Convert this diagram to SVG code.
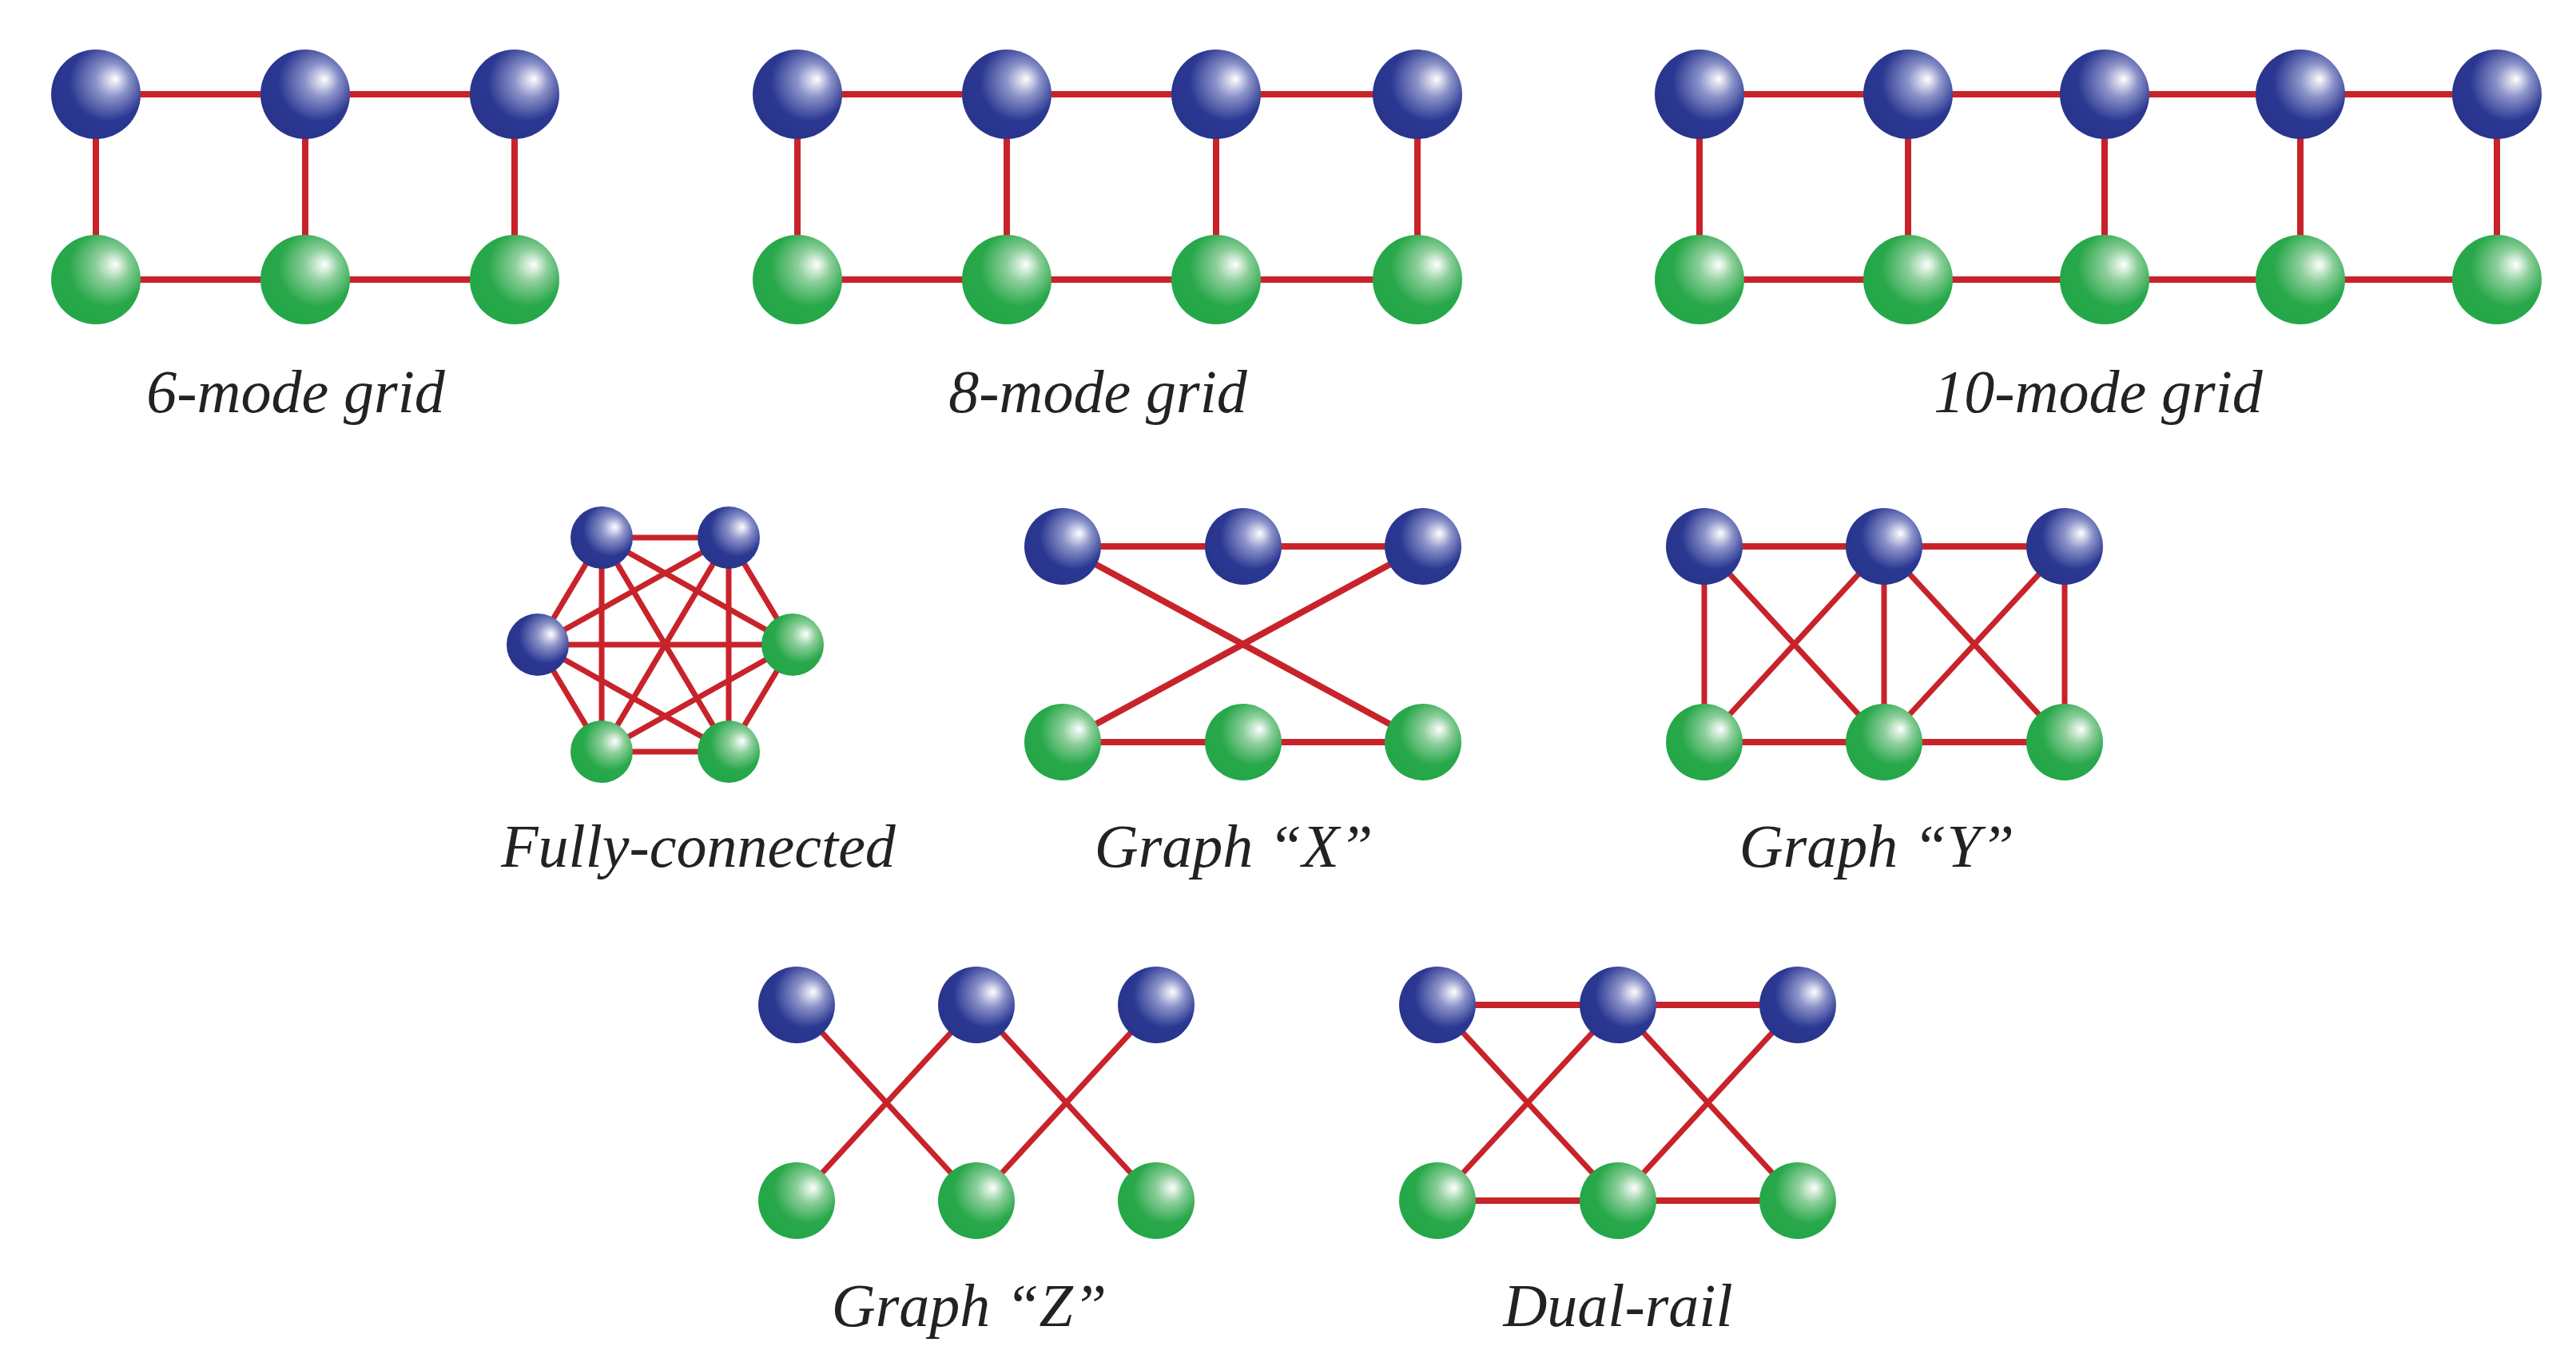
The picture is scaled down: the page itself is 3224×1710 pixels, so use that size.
<svg xmlns="http://www.w3.org/2000/svg" width="3224" height="1710" viewBox="0 0 3224 1710">
<style>
.e{stroke:#c8232a;stroke-width:8;fill:none}
.d{stroke:#c8232a;stroke-width:7;fill:none}
.b{fill:url(#gb)}
.g{fill:url(#gg)}
text{font-family:"Liberation Serif","DejaVu Serif",serif;font-style:italic;font-size:76px;fill:#222;text-anchor:middle}
</style>
<defs>
<radialGradient id="gb" cx="0.6" cy="0.38" r="0.62" fx="0.72" fy="0.33">
<stop offset="0" stop-color="#ffffff"/><stop offset="0.3" stop-color="#8c93c9"/><stop offset="0.7" stop-color="#2b3892"/><stop offset="1" stop-color="#29358c"/>
</radialGradient>
<radialGradient id="gg" cx="0.6" cy="0.38" r="0.62" fx="0.72" fy="0.33">
<stop offset="0" stop-color="#ffffff"/><stop offset="0.3" stop-color="#8cce9a"/><stop offset="0.7" stop-color="#28a84a"/><stop offset="1" stop-color="#24a748"/>
</radialGradient>
</defs>
<g id="connectors">
<!-- 6-mode -->
<path class="e" d="M120 118H644M120 350H644M120 118V350M382 118V350M644 118V350"/>
<!-- 8-mode -->
<path class="e" d="M998 118H1774M998 350H1774M998 118V350M1260 118V350M1522 118V350M1774 118V350"/>
<!-- 10-mode -->
<path class="e" d="M2127 118H3125M2127 350H3125M2127 118V350M2388 118V350M2634 118V350M2879 118V350M3125 118V350"/>
<!-- fully connected -->
<path class="d" d="M753 673L912 673M753 673L673 807M753 673L992 807M753 673L753 941M753 673L912 941M912 673L673 807M912 673L992 807M912 673L753 941M912 673L912 941M673 807L992 807M673 807L753 941M673 807L912 941M992 807L753 941M992 807L912 941M753 941L912 941"/>
<!-- X -->
<path class="e" d="M1330 684H1781M1330 929H1781M1330 684L1781 929M1781 684L1330 929"/>
<!-- Y -->
<path class="e" d="M2133 684H2584M2133 929H2584"/>
<path class="d" d="M2133 684V929M2358 684V929M2584 684V929M2133 684L2358 929M2358 684L2133 929M2358 684L2584 929M2584 684L2358 929"/>
<!-- Z -->
<path class="d" d="M997 1258L1222 1503M1222 1258L997 1503M1222 1258L1447 1503M1447 1258L1222 1503"/>
<!-- Dual rail -->
<path class="e" d="M1799 1258H2250M1799 1503H2250"/>
<path class="d" d="M1799 1258L2025 1503M2025 1258L1799 1503M2025 1258L2250 1503M2250 1258L2025 1503"/>
</g>
<g id="grid6">
<circle class="b" cx="120" cy="118" r="56"/><circle class="b" cx="382" cy="118" r="56"/><circle class="b" cx="644" cy="118" r="56"/>
<circle class="g" cx="120" cy="350" r="56"/><circle class="g" cx="382" cy="350" r="56"/><circle class="g" cx="644" cy="350" r="56"/>
<text x="370" y="516">6-mode grid</text>
</g>
<g id="grid8">
<circle class="b" cx="998" cy="118" r="56"/><circle class="b" cx="1260" cy="118" r="56"/><circle class="b" cx="1522" cy="118" r="56"/><circle class="b" cx="1774" cy="118" r="56"/>
<circle class="g" cx="998" cy="350" r="56"/><circle class="g" cx="1260" cy="350" r="56"/><circle class="g" cx="1522" cy="350" r="56"/><circle class="g" cx="1774" cy="350" r="56"/>
<text x="1374" y="516">8-mode grid</text>
</g>
<g id="grid10">
<circle class="b" cx="2127" cy="118" r="56"/><circle class="b" cx="2388" cy="118" r="56"/><circle class="b" cx="2634" cy="118" r="56"/><circle class="b" cx="2879" cy="118" r="56"/><circle class="b" cx="3125" cy="118" r="56"/>
<circle class="g" cx="2127" cy="350" r="56"/><circle class="g" cx="2388" cy="350" r="56"/><circle class="g" cx="2634" cy="350" r="56"/><circle class="g" cx="2879" cy="350" r="56"/><circle class="g" cx="3125" cy="350" r="56"/>
<text x="2626" y="516">10-mode grid</text>
</g>
<g id="fully">
<circle class="b" cx="753" cy="673" r="39"/><circle class="b" cx="912" cy="673" r="39"/><circle class="b" cx="673" cy="807" r="39"/>
<circle class="g" cx="992" cy="807" r="39"/><circle class="g" cx="753" cy="941" r="39"/><circle class="g" cx="912" cy="941" r="39"/>
<text x="874" y="1085">Fully-connected</text>
</g>
<g id="graphX">
<circle class="b" cx="1330" cy="684" r="48"/><circle class="b" cx="1556" cy="684" r="48"/><circle class="b" cx="1781" cy="684" r="48"/>
<circle class="g" cx="1330" cy="929" r="48"/><circle class="g" cx="1556" cy="929" r="48"/><circle class="g" cx="1781" cy="929" r="48"/>
<text x="1544" y="1085">Graph “X”</text>
</g>
<g id="graphY">
<circle class="b" cx="2133" cy="684" r="48"/><circle class="b" cx="2358" cy="684" r="48"/><circle class="b" cx="2584" cy="684" r="48"/>
<circle class="g" cx="2133" cy="929" r="48"/><circle class="g" cx="2358" cy="929" r="48"/><circle class="g" cx="2584" cy="929" r="48"/>
<text x="2349" y="1085">Graph “Y”</text>
</g>
<g id="graphZ">
<circle class="b" cx="997" cy="1258" r="48"/><circle class="b" cx="1222" cy="1258" r="48"/><circle class="b" cx="1447" cy="1258" r="48"/>
<circle class="g" cx="997" cy="1503" r="48"/><circle class="g" cx="1222" cy="1503" r="48"/><circle class="g" cx="1447" cy="1503" r="48"/>
<text x="1213" y="1660">Graph “Z”</text>
</g>
<g id="dualrail">
<circle class="b" cx="1799" cy="1258" r="48"/><circle class="b" cx="2025" cy="1258" r="48"/><circle class="b" cx="2250" cy="1258" r="48"/>
<circle class="g" cx="1799" cy="1503" r="48"/><circle class="g" cx="2025" cy="1503" r="48"/><circle class="g" cx="2250" cy="1503" r="48"/>
<text x="2025" y="1660">Dual-rail</text>
</g>
</svg>
